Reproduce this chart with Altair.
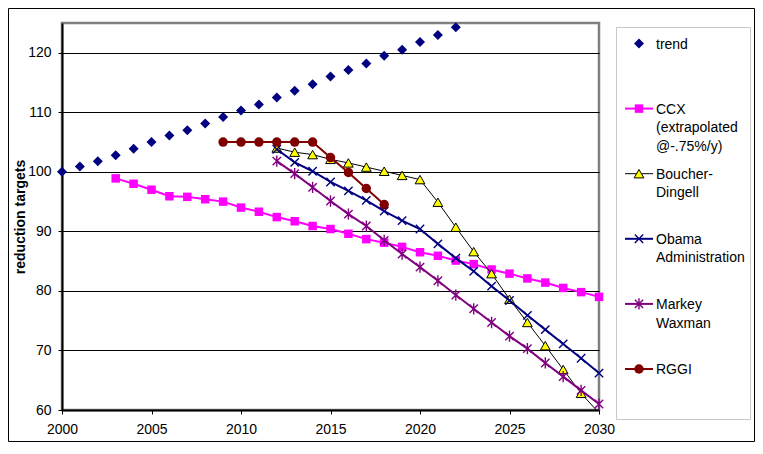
import altair as alt
import pandas as pd

# ---------------- data ----------------
trend_years = list(range(2000, 2023))
trend_vals = [100.0, 100.9, 101.8, 102.8, 103.9, 105.0, 106.1, 107.0, 108.1, 109.2,
              110.3, 111.3, 112.5, 113.6, 114.7, 116.0, 117.1, 118.2, 119.5, 120.5,
              121.8, 123.0, 124.3]

ccx_years = list(range(2003, 2031))
ccx_vals = [98.9, 98.0, 97.0, 95.9, 95.8, 95.4, 95.0, 94.0, 93.3, 92.4,
            91.7, 90.9, 90.4, 89.6, 88.7, 88.1, 87.4, 86.5, 85.9, 85.1,
            84.5, 83.6, 82.9, 82.1, 81.4, 80.5, 79.8, 79.0]

policy_years = list(range(2012, 2031))
boucher_vals = [104.0, 103.3, 102.9, 102.1, 101.5, 100.8, 100.1, 99.4, 98.7, 94.9,
                90.7, 86.6, 82.9, 78.6, 74.7, 70.8, 66.8, 62.8, 59.5]
obama_vals = [103.8, 101.6, 100.1, 98.3, 96.8, 95.2, 93.4, 91.8, 90.4, 87.9,
              85.5, 83.3, 80.8, 78.4, 75.9, 73.5, 71.1, 68.7, 66.2]
markey_vals = [101.8, 99.7, 97.4, 95.1, 92.9, 90.9, 88.5, 86.2, 84.0, 81.7,
               79.3, 77.0, 74.7, 72.4, 70.3, 67.9, 65.6, 63.3, 61.0]

rggi_years = list(range(2009, 2019))
rggi_vals = [105.0, 105.0, 105.0, 105.0, 105.0, 105.0, 102.4, 99.9, 97.2, 94.5]

series_keys = ["trend", "CCX", "Boucher-Dingell", "Obama", "Markey", "RGGI"]
legend_labels = ["trend", "CCX\n(extrapolated\n@-.75%/y)", "Boucher-\nDingell",
                 "Obama\nAdministration", "Markey\nWaxman", "RGGI"]
x_ticks = [2000, 2005, 2010, 2015, 2020, 2025, 2030]
y_ticks = [60, 70, 80, 90, 100, 110, 120]

series_data = {
    "trend": (trend_years, trend_vals),
    "CCX": (ccx_years, ccx_vals),
    "Boucher-Dingell": (policy_years, boucher_vals),
    "Obama": (policy_years, obama_vals),
    "Markey": (policy_years, markey_vals),
    "RGGI": (rggi_years, rggi_vals),
}

# ---------------- styles ----------------
FONT = "Liberation Sans"
X_PATH = "M-1,-1L1,1M-1,1L1,-1"
STAR_PATH = "M-1,-1L1,1M-1,1L1,-1M0,-1.35L0,1.35"

styles = {
    "trend": dict(line=None, shape="diamond", fill="#000080", stroke="#000080", sw=0, size=100),
    "CCX": dict(line=("#FF00FF", 2), shape="square", fill="#FF00FF", stroke="#FF00FF", sw=0, size=72),
    "Boucher-Dingell": dict(line=("#000000", 1), shape="triangle-up", fill="#FFFF00", stroke="#000000", sw=1, size=95),
    "Obama": dict(line=("#000080", 2), shape=X_PATH, fill=None, stroke="#000080", sw=1.4, size=70),
    "Markey": dict(line=("#800080", 2), shape=STAR_PATH, fill=None, stroke="#800080", sw=1.4, size=70),
    "RGGI": dict(line=("#800000", 2), shape="circle", fill="#800000", stroke="#800000", sw=0, size=90),
}

x_enc = alt.X(
    "year:Q",
    scale=alt.Scale(domain=[2000, 2030], nice=False, zero=False),
    axis=alt.Axis(values=x_ticks, format="d", title=None, grid=False,
                  labelFont=FONT, labelFontSize=14, labelColor="black",
                  labelPadding=8, tickSize=4, tickColor="black", tickWidth=1,
                  domainColor="black", domainWidth=2, labelFlush=False),
)
y_enc = alt.Y(
    "value:Q",
    scale=alt.Scale(domain=[60, 125], nice=False, zero=False),
    axis=alt.Axis(values=y_ticks, title="reduction targets",
                  titleFont=FONT, titleFontSize=14, titleFontWeight="bold",
                  titleColor="black", titlePadding=0,
                  labelFont=FONT, labelFontSize=14, labelColor="black",
                  labelPadding=7, tickSize=4, tickColor="black",
                  domainColor="black", domainWidth=2,
                  grid=True, gridColor="black", gridWidth=1, gridOpacity=1),
)


def point_mark(st):
    kw = dict(shape=st["shape"], size=st["size"], opacity=1, strokeOpacity=1)
    if st["fill"] is not None:
        kw.update(filled=True, fill=st["fill"], fillOpacity=1)
    else:
        kw.update(filled=False)
    kw.update(stroke=st["stroke"], strokeWidth=st["sw"] if st["sw"] else 0.01)
    return kw


data_layers = []
for key in series_keys:
    yrs, vals = series_data[key]
    df = pd.DataFrame({"year": yrs, "value": vals, "series": key})
    st = styles[key]
    base = alt.Chart(df)
    if st["line"] is not None:
        data_layers.append(
            base.mark_line(color=st["line"][0], strokeWidth=st["line"][1], clip=True)
            .encode(x=x_enc, y=y_enc)
        )
    data_layers.append(
        base.transform_filter("datum.value >= 60")
        .mark_point(**point_mark(st))
        .encode(x=x_enc, y=y_enc)
    )

data_layer = alt.layer(*data_layers)

# ---------------- legend (manual) ----------------
legend_df = pd.DataFrame({"series": series_keys, "label": legend_labels})
ly = alt.Y("series:N",
           scale=alt.Scale(type="point", domain=series_keys, range=[20.5, 346], padding=0),
           axis=None)

legend_layers = [
    alt.Chart(legend_df.head(1)).mark_rect(fillOpacity=0, stroke="#c8c8c8", strokeWidth=1)
    .encode(x=alt.value(554.5), x2=alt.value(688.5), y=alt.value(4.5), y2=alt.value(396.5))
]
for key in series_keys:
    st = styles[key]
    sub = alt.Chart(legend_df).transform_filter(alt.datum.series == key)
    if st["line"] is not None:
        legend_layers.append(
            sub.mark_rule(color=st["line"][0], strokeWidth=st["line"][1])
            .encode(x=alt.value(563), x2=alt.value(591), y=ly)
        )
    legend_layers.append(sub.mark_point(**point_mark(st)).encode(x=alt.value(577), y=ly))

legend_layers.append(
    alt.Chart(legend_df).mark_text(align="left", baseline="top", dy=-6, lineBreak="\n",
                                   lineHeight=18.7, font=FONT, fontSize=14, color="black")
    .encode(x=alt.value(594), y=ly, text="label:N")
)
legend_layer = alt.layer(*legend_layers)

frame = alt.Chart(legend_df.head(1)).mark_rect(fillOpacity=0, stroke="black", strokeWidth=1).encode(
    x=alt.value(-53.5), x2=alt.value(692.5), y=alt.value(-14.5), y2=alt.value(418.5)
)

chart = (
    alt.layer(data_layer, legend_layer, frame)
    .resolve_scale(y="independent")
    .properties(
        width=537, height=387,
        autosize=alt.AutoSizeParams(type="none"),
        padding={"left": 54, "top": 15, "right": 156, "bottom": 32},
        background="white",
    )
    .configure_view(stroke="#808080", strokeWidth=2.5)
)

chart.save("out.html", embed_options={"renderer": "svg", "actions": False})
